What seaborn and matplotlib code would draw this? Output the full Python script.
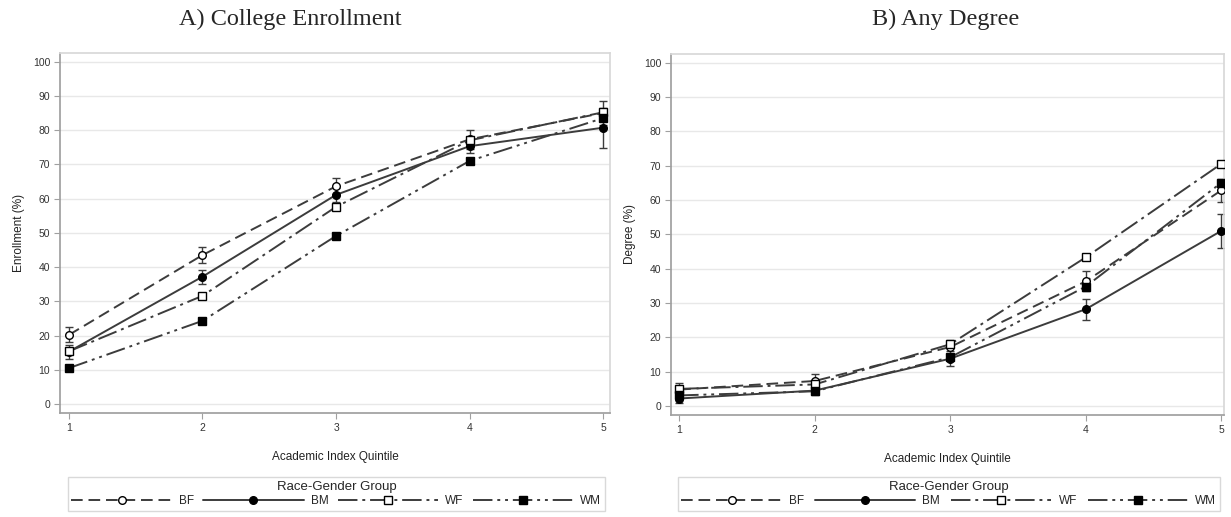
import numpy as np
import pandas as pd
import matplotlib
matplotlib.use("Agg")
import matplotlib.pyplot as plt
import seaborn as sns

sns.set_theme(style="white")
plt.rcParams["font.family"] = ["Liberation Sans", "DejaVu Sans"]

# ---------------------------------------------------------------------------
# Data (percent, by academic index quintile)
# ---------------------------------------------------------------------------
quintiles = [1, 2, 3, 4, 5]
groups = ["BF", "BM", "WF", "WM"]

# A) College enrollment
enroll_bf = [20.2, 43.5, 63.6, 77.3, 85.0]
enroll_bm = [15.3, 37.2, 61.1, 75.3, 80.7]
enroll_wf = [15.4, 31.6, 57.6, 77.0, 85.2]
enroll_wm = [10.5, 24.3, 49.1, 71.0, 83.5]
enroll_bf_err = [2.2, 2.3, 2.4, 2.8, 3.6]
enroll_bm_err = [2.0, 2.0, 2.0, 2.0, 5.8]
enroll_wf_err = [0.9, 0.9, 0.9, 0.9, 0.9]
enroll_wm_err = [0.8, 0.8, 0.8, 0.8, 0.8]

# B) Any degree
degree_bf = [4.8, 7.3, 17.2, 36.3, 62.8]
degree_bm = [2.2, 4.5, 13.8, 28.2, 51.0]
degree_wf = [5.0, 6.3, 18.0, 43.3, 70.5]
degree_wm = [3.1, 4.3, 14.2, 34.8, 65.0]
degree_bf_err = [2.0, 2.1, 2.0, 2.9, 3.4]
degree_bm_err = [1.4, 1.2, 2.2, 3.0, 4.9]
degree_wf_err = [0.8, 0.8, 0.8, 0.8, 0.8]
degree_wm_err = [0.7, 0.7, 0.7, 0.7, 0.8]

panels = [
    ("A) College Enrollment", "Enrollment (%)",
     [enroll_bf, enroll_bm, enroll_wf, enroll_wm],
     [enroll_bf_err, enroll_bm_err, enroll_wf_err, enroll_wm_err]),
    ("B) Any Degree", "Degree (%)",
     [degree_bf, degree_bm, degree_wf, degree_wm],
     [degree_bf_err, degree_bm_err, degree_wf_err, degree_wm_err]),
]

LINE_COLOR = "#3c3c3c"
group_style = {
    "BF": dict(linestyle=(0, (6, 3)), marker="o", markerfacecolor="white"),
    "BM": dict(linestyle="-", marker="o", markerfacecolor="black"),
    "WF": dict(linestyle=(0, (10, 2.5, 1.5, 2.5)), marker="s", markerfacecolor="white"),
    "WM": dict(linestyle=(0, (10, 2.5, 1.5, 2.5, 1.5, 2.5)), marker="s", markerfacecolor="black"),
}

fig = plt.figure(figsize=(12.31, 5.17), dpi=100)
axes_rects = [
    [0.0487, 0.2012, 0.4468, 0.6963],
    [0.5451, 0.1973, 0.4492, 0.6983],
]
legend_boxes = [(0.0145, -0.178, 0.976, 0.0), (0.0125, -0.172, 0.98, 0.0)]
title_x = [0.236, 0.768]
xlims = [(0.933, 5.05), (0.94, 5.02)]

for i, (title, ylabel, series, errors) in enumerate(panels):
    ax = fig.add_axes(axes_rects[i])
    handles = []
    for name, vals, err in zip(groups, series, errors):
        df = pd.DataFrame({"quintile": quintiles, "pct": vals})
        ax.errorbar(quintiles, vals, yerr=err, fmt="none", ecolor=LINE_COLOR,
                    elinewidth=1.0, capsize=3, capthick=1.0, zorder=2)
        sns.lineplot(data=df, x="quintile", y="pct", ax=ax, color=LINE_COLOR,
                     linewidth=1.4, markersize=5.5, markeredgecolor="black",
                     markeredgewidth=1.0, label=name, legend=False, zorder=3,
                     **group_style[name])
        handles.append(ax.lines[-1])

    ax.set_xlim(*xlims[i])
    ax.set_ylim(-2.6, 102.5)
    ax.set_xticks(quintiles)
    ax.set_yticks(range(0, 101, 10))
    ax.yaxis.grid(True, color="#e8e8e8", linewidth=1)
    ax.set_axisbelow(True)
    for side in ["left", "bottom"]:
        ax.spines[side].set_color("#a0a0a0")
    for side in ["top", "right"]:
        ax.spines[side].set_color("#d8d8d8")
    ax.tick_params(axis="both", length=4, width=0.8, color="#a0a0a0",
                   labelsize=7.5, labelcolor="#333333", pad=3)
    ax.tick_params(axis="x", bottom=True)
    ax.tick_params(axis="y", left=True)
    ax.set_xlabel("Academic Index Quintile", fontsize=8.5, color="#222222", labelpad=13)
    ax.set_ylabel(ylabel, fontsize=8.5, color="#222222", labelpad=6)

    leg = ax.legend(handles=handles, labels=groups, title="Race-Gender Group",
                    loc="upper left", bbox_to_anchor=legend_boxes[i],
                    mode="expand", ncol=4, handlelength=8.5, handletextpad=0.6,
                    columnspacing=0.8, fontsize=8.5, title_fontsize=9.5,
                    frameon=True, fancybox=False, borderpad=0.3,
                    borderaxespad=0.0, labelspacing=0.2, numpoints=1)
    leg.get_frame().set_edgecolor("#d0d0d0")
    leg.get_frame().set_linewidth(1.0)

    fig.text(title_x[i], 0.962, title, ha="center", va="center",
             fontsize=17.5, family=["Liberation Serif", "DejaVu Serif"])

fig.savefig("out.png", dpi=100, facecolor="white")
